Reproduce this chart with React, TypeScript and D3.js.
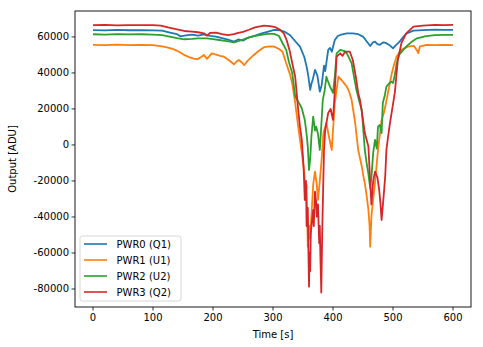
import React from "react";
import * as d3 from "d3";

const seriesNames = ["PWR0 (Q1)", "PWR1 (U1)", "PWR2 (U2)", "PWR3 (Q2)"];
const seriesColors = ["#1f77b4", "#ff7f0e", "#2ca02c", "#d62728"];

const xTicks = [0, 100, 200, 300, 400, 500, 600];
const yTicks = [-80000, -60000, -40000, -20000, 0, 20000, 40000, 60000];

const pwr0T = [0, 20, 40, 60, 80, 100, 115, 130, 140, 146, 155, 165, 175, 185, 195, 205, 215, 225, 235, 242, 250, 258, 268, 280, 292, 302, 312, 320, 328, 336, 345, 352, 356, 359, 362, 364, 366, 370, 374, 376, 378, 381, 385, 387, 392, 395, 398, 403, 408, 412, 423, 433, 442, 450, 456, 462, 466, 470, 474, 478, 484, 489, 495, 500, 505, 511, 517, 523, 534, 550, 570, 585, 600];
const pwr0V = [63800, 63600, 63900, 63700, 63800, 63600, 63500, 62300, 61500, 60300, 60800, 61300, 60700, 61400, 60600, 60200, 59300, 58500, 57400, 58600, 57900, 59500, 60500, 61800, 63000, 63900, 63700, 62800, 61100, 58000, 54600, 49000, 43500, 38000, 30600, 34000, 36000, 41700, 38500, 34000, 29600, 33000, 44000, 41000, 52800, 53900, 51800, 58300, 60500, 61100, 62000, 62000, 61500, 60200, 57600, 55000, 56800, 57400, 56000, 55600, 57000, 56500, 55200, 53700, 55500, 57400, 60000, 62000, 63500, 63800, 64000, 63900, 63900];

const pwr1T = [0, 20, 40, 60, 80, 100, 115, 125, 135, 145, 152, 160, 168, 174, 180, 185, 190, 198, 205, 212, 218, 225, 235, 240, 243, 248, 252, 258, 268, 276, 285, 295, 302, 310, 316, 322, 328, 332, 337, 342, 348, 350, 352, 355, 356, 358, 361, 362, 364, 367, 370, 373, 375, 378, 381, 384, 389, 393, 398, 400, 403, 409, 414, 418, 423, 427, 431, 437, 442, 448, 451, 453, 456, 459, 461, 462, 464, 467, 470, 475, 481, 485, 489, 494, 498, 502, 506, 514, 525, 535, 540, 542, 545, 556, 570, 585, 600];
const pwr1V = [55600, 55400, 55700, 55500, 55600, 55400, 54800, 54000, 53100, 51500, 50000, 48800, 48000, 47600, 48800, 50000, 47800, 50900, 50200, 49500, 49000, 47500, 44800, 46500, 47200, 45800, 44400, 46800, 50000, 52200, 54300, 54800, 54600, 53300, 51800, 45400, 39500, 34300, 23300, 10200, -4400, -10000, -15000, -30000, -22000, -56500, -45000, -52000, -39800, -22000, -14800, -22000, -30500, -20000, -8300, 6600, 12200, 5000, -2800, 8000, 23300, 37900, 36100, 34500, 32400, 29500, 25000, 12200, -2800, -12000, -18000, -21100, -28000, -36100, -45000, -56500, -39800, -30000, -21100, -2800, 13900, 18000, 24500, 33000, 39800, 45000, 49100, 52800, 54600, 55000, 52500, 51000, 54800, 55600, 55400, 55600, 55500];

const pwr2T = [0, 20, 40, 60, 80, 100, 115, 130, 140, 152, 165, 175, 190, 200, 210, 220, 228, 235, 242, 250, 260, 268, 280, 292, 302, 310, 316, 322, 327, 332, 337, 342, 348, 353, 356, 358, 360, 362, 364, 367, 370, 372, 375, 378, 380, 383, 386, 389, 392, 395, 400, 403, 406, 412, 418, 423, 431, 435, 439, 444, 448, 453, 456, 459, 462, 464, 467, 470, 473, 475, 478, 481, 483, 486, 489, 493, 497, 500, 503, 506, 510, 517, 522, 530, 540, 555, 570, 585, 600];
const pwr2V = [61500, 61300, 61600, 61400, 61500, 61300, 61000, 60000, 59300, 58700, 58900, 59200, 59200, 58800, 58300, 57800, 57400, 57000, 57600, 58500, 59800, 60500, 61200, 61700, 61700, 60500, 56500, 52800, 45500, 40000, 26900, 24100, 20400, 13900, 6000, -900, -13900, -8000, 4600, 15700, 8000, 10200, 6000, -2800, 8000, 25000, 30000, 37900, 35000, 32400, 28900, 38000, 50900, 52800, 52300, 50900, 45400, 38000, 30600, 24000, 19400, -2800, -10000, -16000, -24000, -18000, -4400, 2800, -2000, 10200, 11100, 6600, 23300, 27000, 32400, 34000, 35200, 34400, 38900, 45000, 50000, 52800, 54600, 57000, 59200, 60500, 61000, 61100, 61100];

const pwr3T = [0, 20, 40, 60, 80, 100, 113, 125, 140, 152, 165, 175, 185, 190, 195, 205, 215, 225, 235, 242, 250, 260, 270, 285, 295, 304, 312, 318, 323, 328, 333, 337, 342, 345, 348, 351, 353, 355, 356, 358, 359, 360, 361, 362, 363, 365, 367, 368, 370, 372, 373, 375, 377, 378, 379, 380.5, 381.5, 382, 385, 387, 392, 396, 400, 403, 406, 412, 416, 420, 428, 433, 438, 442, 445, 450, 453, 459, 462, 464, 467, 470, 474, 477, 479, 481, 484, 487, 489, 492, 495, 503, 508, 514, 522, 534, 550, 570, 585, 600];
const pwr3V = [66500, 66700, 66400, 66600, 66500, 66600, 66300, 65300, 64200, 63300, 63000, 62600, 62000, 60700, 62200, 62400, 61600, 61000, 61500, 62300, 62800, 64000, 65300, 66300, 66000, 65400, 63900, 62000, 58000, 52000, 44000, 37900, 19400, 10000, 2800, -12000, -30500, -20000, -45000, -35000, -58300, -78700, -60000, -70000, -49000, -42000, -36100, -45000, -25900, -32000, -39800, -33000, -54600, -45000, -62000, -82000, -60000, -49000, -2800, 8300, 17800, 20000, 13900, 30000, 49100, 50900, 49500, 51800, 51800, 47200, 38000, 28900, 25000, 13900, 6600, -900, -21000, -33000, -20000, -14800, -18000, -25000, -32000, -41700, -30000, -17600, -2800, 5000, 12200, 28900, 47200, 56500, 62000, 65700, 66300, 66700, 66600, 66700];

const seriesT = [pwr0T, pwr1T, pwr2T, pwr3T];
const seriesV = [pwr0V, pwr1V, pwr2V, pwr3V];

const W = 483;
const H = 347;
const L = 75;
const R = 471;
const T = 11;
const B = 307;
const FONT = "DejaVu Sans, sans-serif";

export default function App() {
  const x = d3.scaleLinear().domain([-30, 630]).range([L, R]);
  const y = d3.scaleLinear().domain([-90000, 74400]).range([B, T]);

  const line = d3
    .line<[number, number]>()
    .x((d) => x(d[0]))
    .y((d) => y(d[1]));

  return (
    <svg
      width={W}
      height={H}
      style={{ position: "absolute", left: 0, top: 0, background: "#fff" }}
      fontFamily={FONT}
    >
      <rect x={0} y={0} width={W} height={H} fill="#fff" />
      <defs>
        <clipPath id="plotclip">
          <rect x={L} y={T} width={R - L} height={B - T} />
        </clipPath>
      </defs>
      <g clipPath="url(#plotclip)">
        {seriesT.map((ts, i) => {
          const pts: [number, number][] = ts.map((t, j) => [t, seriesV[i][j]]);
          return (
            <path
              key={i}
              d={line(pts) || ""}
              fill="none"
              stroke={seriesColors[i]}
              strokeWidth={1.8}
              strokeLinejoin="round"
            />
          );
        })}
      </g>
      <rect x={L} y={T} width={R - L} height={B - T} fill="none" stroke="#000" strokeWidth={0.9} />
      {xTicks.map((t) => (
        <g key={"x" + t}>
          <line x1={x(t)} x2={x(t)} y1={B} y2={B + 3.5} stroke="#000" strokeWidth={0.8} />
          <text x={x(t)} y={B + 6} dy="0.76em" textAnchor="middle" fontSize={10} fill="#000">
            {t}
          </text>
        </g>
      ))}
      {yTicks.map((t) => (
        <g key={"y" + t}>
          <line x1={L - 3.5} x2={L} y1={y(t)} y2={y(t)} stroke="#000" strokeWidth={0.8} />
          <text x={L - 6} y={y(t)} dy="0.35em" textAnchor="end" fontSize={10} fill="#000">
            {t}
          </text>
        </g>
      ))}
      <text x={(L + R) / 2} y={338} textAnchor="middle" fontSize={10} fill="#000">
        Time [s]
      </text>
      <text
        transform={`translate(16,${(T + B) / 2}) rotate(-90)`}
        textAnchor="middle"
        fontSize={10}
        fill="#000"
      >
        Output [ADU]
      </text>
      <g>
        <rect x={80} y={236} width={101} height={65} rx={2.5} fill="#fff" fillOpacity={0.8} stroke="#cccccc" strokeWidth={0.8} />
        {seriesNames.map((n, i) => (
          <g key={n}>
            <line x1={84} x2={107} y1={244 + i * 16} y2={244 + i * 16} stroke={seriesColors[i]} strokeWidth={1.6} />
            <text x={116.5} y={244 + i * 16} dy="0.35em" fontSize={10} fill="#000">
              {n}
            </text>
          </g>
        ))}
      </g>
    </svg>
  );
}
